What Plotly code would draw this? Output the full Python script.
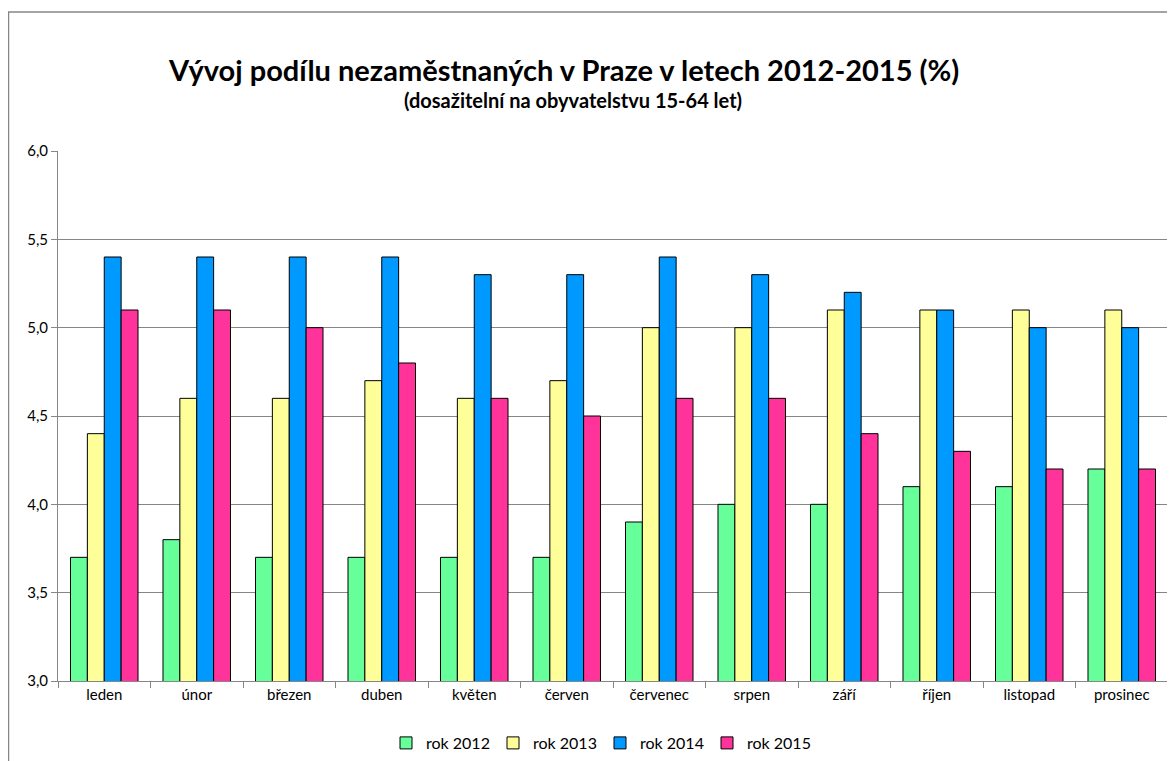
import plotly.graph_objects as go

months = ["leden", "únor", "březen", "duben", "květen", "červen", "červenec",
          "srpen", "září", "říjen", "listopad", "prosinec"]
rok_2012 = [3.7, 3.8, 3.7, 3.7, 3.7, 3.7, 3.9, 4.0, 4.0, 4.1, 4.1, 4.2]
rok_2013 = [4.4, 4.6, 4.6, 4.7, 4.6, 4.7, 5.0, 5.0, 5.1, 5.1, 5.1, 5.1]
rok_2014 = [5.4, 5.4, 5.4, 5.4, 5.3, 5.3, 5.4, 5.3, 5.2, 5.1, 5.0, 5.0]
rok_2015 = [5.1, 5.1, 5.0, 4.8, 4.6, 4.5, 4.6, 4.6, 4.4, 4.3, 4.2, 4.2]
series_names = ["rok 2012", "rok 2013", "rok 2014", "rok 2015"]
colors = ["#66FF99", "#FFFF99", "#0099FF", "#FF3399"]
y_ticks = [3.0, 3.5, 4.0, 4.5, 5.0, 5.5, 6.0]

# page has an 8px body margin; figure coords = page coords - 8
W, H = 1167, 753
L, R, T, B = 50, 7, 143, 80
pw, ph = W - L - R, H - T - B


def px(x):
    return (x - L) / pw


def py(y):
    return (H - B - y) / ph


fig = go.Figure()
for name, vals, col in zip(series_names, [rok_2012, rok_2013, rok_2014, rok_2015], colors):
    fig.add_trace(go.Bar(x=months, y=vals, name=name, marker_color=col,
                         marker_line=dict(color="#000000", width=1)))

font = "Lato, 'Open Sans', sans-serif"
fig.update_layout(
    width=W, height=H,
    margin=dict(l=L, r=R, t=T, b=B, autoexpand=False),
    paper_bgcolor="white", plot_bgcolor="white",
    barmode="group", bargap=0.27, bargroupgap=0,
    separators=", ",
    font=dict(family=font, size=15, color="#000000"),
    showlegend=True,
    legend=dict(orientation="h", xref="container", yref="container",
                x=592 / W, xanchor="center", y=1 - 735 / H,
                yanchor="middle", font=dict(size=16, family=font), itemwidth=30,
                entrywidth=62, entrywidthmode="pixels",
                traceorder="normal"),
    xaxis=dict(type="category", showgrid=False, ticks="outside", ticklen=6,
               tickcolor="#868686", tickson="boundaries", showline=True,
               linecolor="#868686", linewidth=1, tickfont=dict(size=15),
               fixedrange=True, automargin=False),
    yaxis=dict(range=[3.0, 6.0], tickvals=y_ticks, tickformat=".1f",
               showgrid=True, gridcolor="#868686", gridwidth=1,
               ticks="outside", ticklen=6, tickcolor="#868686",
               showline=True, linecolor="#868686", linewidth=1,
               tickfont=dict(size=15), zeroline=False, automargin=False),
    annotations=[
        dict(text="<b>Vývoj podílu nezaměstnaných v Praze v letech 2012-2015 (%)</b>",
             xref="paper", yref="paper", x=px(555), y=py(61),
             xanchor="center", yanchor="middle", showarrow=False,
             font=dict(size=29, family=font)),
        dict(text="<b>(dosažitelní na obyvatelstvu 15-64 let)</b>",
             xref="paper", yref="paper", x=px(565), y=py(92),
             xanchor="center", yanchor="middle", showarrow=False,
             font=dict(size=20, family=font)),
    ],
    shapes=[
        dict(type="rect", xref="paper", yref="paper",
             x0=px(0.5), x1=px(W + 20),
             y0=py(H + 20), y1=py(4),
             line=dict(color="#868686", width=1.5), fillcolor="rgba(0,0,0,0)",
             layer="below"),
    ],
)

fig.write_html("out.html")
